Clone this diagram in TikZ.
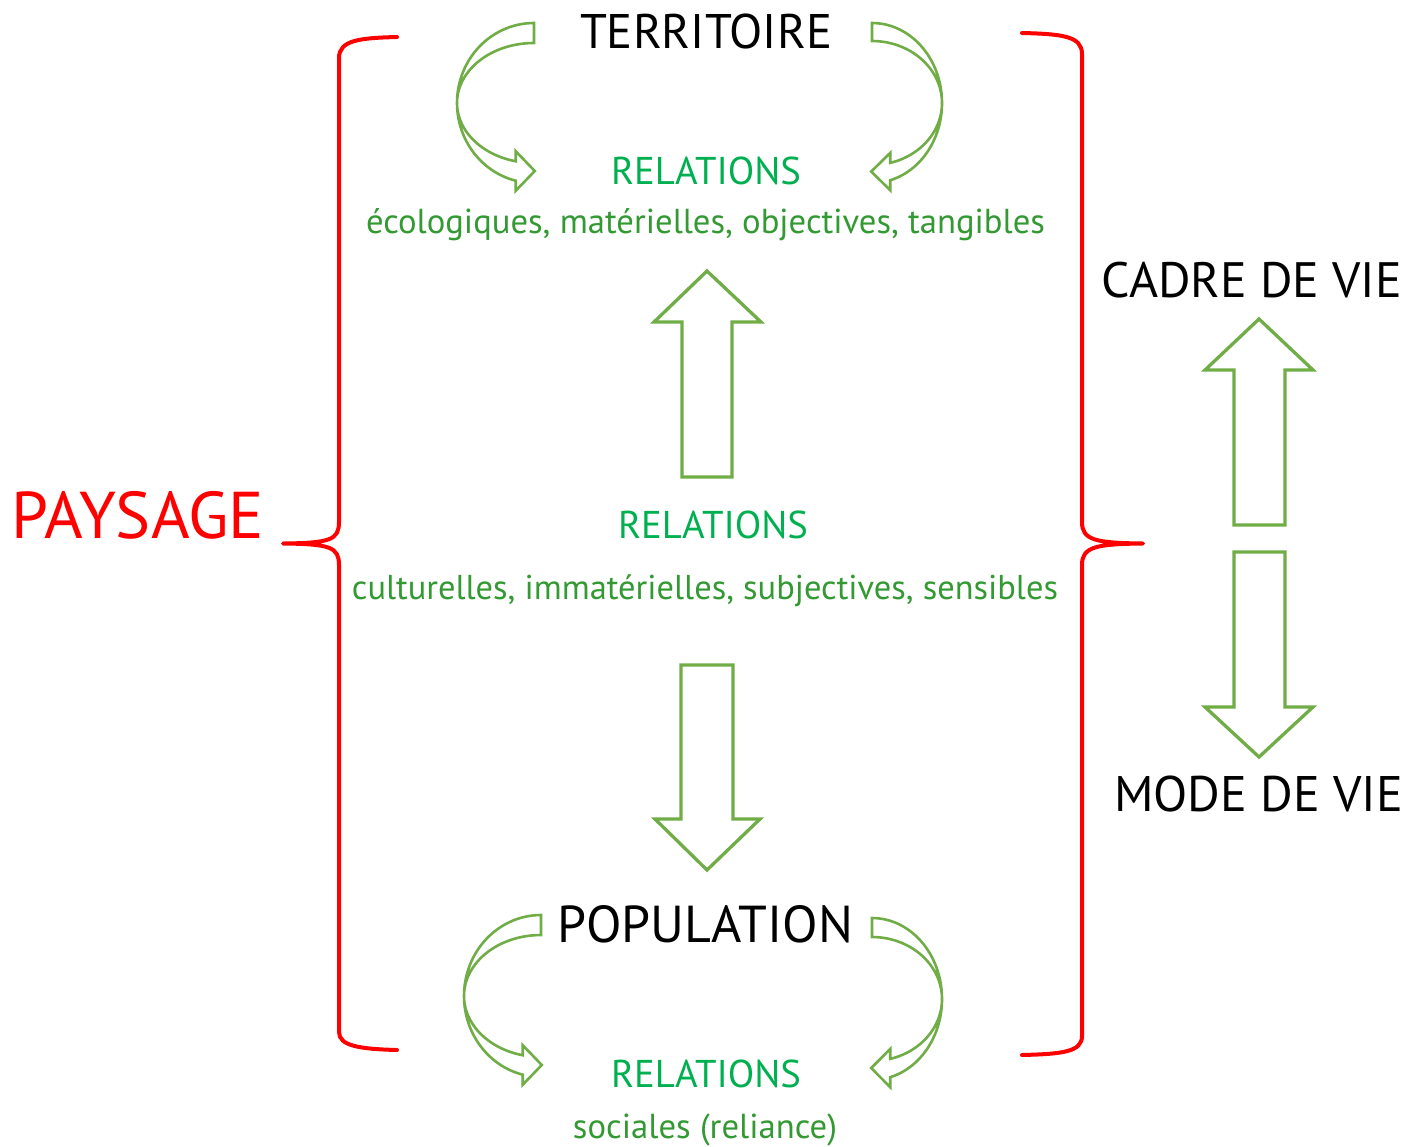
\documentclass[tikz,border=0pt]{standalone}
\usepackage{fontspec}
\setmainfont{PT Sans}
\usepackage{graphicx}
\definecolor{agreen}{HTML}{70AD47}
\definecolor{relg}{HTML}{00B050}
\definecolor{darkg}{HTML}{339933}
\newcommand{\fitw}[2]{\resizebox{#1pt}{!}{#2}}
\tikzset{
  brace/.style={draw=red, line width=4pt, line join=round, line cap=round},
  fatarrow/.style={draw=agreen, line width=3.3pt, line join=miter},
  carrow/.style={draw=agreen, line width=2.6pt, line join=miter},
  lbl/.style={anchor=base, inner sep=0pt, font=\fontsize{40}{48}\selectfont},
}
\newcommand{\curvarr}[6]{%
  \pgfmathsetmacro{\cahx}{#1+#3*cos(#6)}%
  \pgfmathsetmacro{\cayo}{#2-#4*sin(#6)}%
  \pgfmathsetmacro{\cayi}{#2-#5*sin(#6)}%
  \pgfmathsetmacro{\caty}{(\cayo+\cayi)/2}%
  \pgfmathsetmacro{\catx}{\cahx+19*(#3/abs(#3))}%
  \draw[carrow] plot[domain=90:#6,samples=60] ({#1+#3*cos(\x)},{#2-#4*sin(\x)})
    -- (\cahx,\cayo+10) -- (\catx,\caty) -- (\cahx,\cayi-10) -- (\cahx,\cayi)
    -- plot[domain=#6:90,samples=60] ({#1+#3*cos(\x)},{#2-#5*sin(\x)}) -- cycle;
}
\begin{document}
\begin{tikzpicture}[x=1pt,y=-1pt]
\useasboundingbox (0,0) rectangle (1410,1146);

% braces
\draw[brace] (397,37) .. controls (360,38) and (339,40) .. (339,58)
  -- (339,522) .. controls (339,540) and (330,543) .. (283,543.5)
  .. controls (330,544) and (339,547) .. (339,565)
  -- (339,1032) .. controls (339,1046) and (360,1049) .. (397,1050);
\draw[brace] (1022,33) .. controls (1062,34) and (1082,36) .. (1082,54)
  -- (1082,522) .. controls (1082,540) and (1095,543) .. (1143,543.5)
  .. controls (1095,544) and (1082,547) .. (1082,565)
  -- (1082,1036) .. controls (1082,1052) and (1062,1054) .. (1022,1055);

% curved arrows
\curvarr{534}{103}{77}{80}{60}{256.3}
\curvarr{872}{103}{-70}{80}{62}{254.9}
\curvarr{541}{996}{77}{81}{61}{256.3}
\curvarr{872}{999}{-70}{81}{62}{254.9}

% straight arrows
\draw[fatarrow] (707,271) -- (761,322) -- (732,322) -- (732,477) -- (682,477) -- (682,322) -- (654,322) -- cycle;
\draw[fatarrow] (707,870) -- (760,819) -- (733,819) -- (733,665) -- (681,665) -- (681,819) -- (655,819) -- cycle;
\draw[fatarrow] (1259,319) -- (1313,370) -- (1285,370) -- (1285,525) -- (1234,525) -- (1234,370) -- (1205,370) -- cycle;
\draw[fatarrow] (1259,757) -- (1313,707) -- (1285,707) -- (1285,552) -- (1234,552) -- (1234,707) -- (1205,707) -- cycle;

% texts
\node[lbl, text=black] (territoire) at (706,48) {\fitw{252}{TERRITOIRE}};
\node[lbl, text=relg] (rel1) at (706,184) {\fitw{190}{RELATIONS}};
\node[lbl, text=darkg] (eco) at (705.5,233) {\fitw{679}{écologiques, matérielles, objectives, tangibles}};
\node[lbl, text=relg] (rel2) at (713,538) {\fitw{190}{RELATIONS}};
\node[lbl, text=darkg] (cult) at (705,599) {\fitw{706}{culturelles, immatérielles, subjectives, sensibles}};
\node[lbl, text=black] (population) at (705.5,942) {\fitw{295}{POPULATION}};
\node[lbl, text=relg] (rel3) at (706,1087) {\fitw{190}{RELATIONS}};
\node[lbl, text=darkg] (soc) at (705,1138) {\fitw{264}{sociales (reliance)}};
\node[lbl, text=red] (paysage) at (138,538) {\fitw{252}{PAYSAGE}};
\node[lbl, text=black] (cadre) at (1252,297) {\fitw{300}{CADRE DE VIE}};
\node[lbl, text=black] (mode) at (1258.5,811) {\fitw{289}{MODE DE VIE}};
\end{tikzpicture}
\end{document}
